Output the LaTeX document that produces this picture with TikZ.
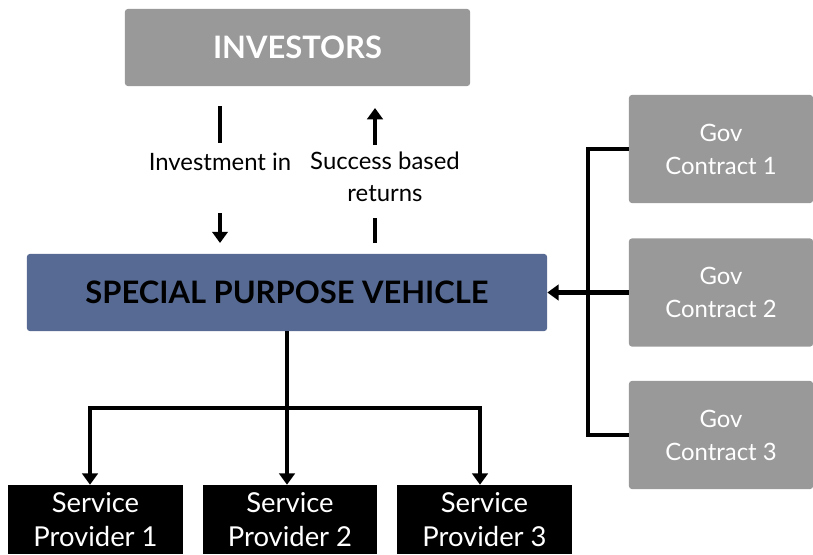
\documentclass[tikz,border=0pt]{standalone}
\usepackage{fontspec}
\setmainfont{Lato}
\usetikzlibrary{arrows.meta}

\definecolor{boxgray}{HTML}{999999}
\definecolor{spvblue}{HTML}{566A93}

\tikzset{
  investbox/.style={fill=boxgray, text=white, font=\fontsize{22}{26}\selectfont\bfseries,
    rounded corners=2pt, minimum width=8.625cm, minimum height=1.925cm, inner sep=0pt},
  spvbox/.style={fill=spvblue, text=black, font=\fontsize{22}{26}\selectfont\bfseries,
    rounded corners=2pt, minimum width=13cm, minimum height=1.925cm, inner sep=0pt},
  govbox/.style={fill=boxgray, text=white, font=\fontsize{17}{23.5}\selectfont, align=center,
    rounded corners=2pt, minimum width=4.6cm, minimum height=2.7cm, inner sep=0pt},
  provbox/.style={fill=black, text=white, font=\fontsize{19.5}{24.5}\selectfont, align=center,
    minimum width=4.35cm, minimum height=1.725cm, inner sep=0pt},
  lbl/.style={font=\fontsize{17}{22.5}\selectfont, align=center, inner sep=0pt},
  conn/.style={line width=3.3pt},
  arr/.style={conn, -{Triangle[width=11pt,length=8pt]}}
}

\begin{document}
\begin{tikzpicture}[x=0.025cm, y=-0.025cm]
  \useasboundingbox (0,0) rectangle (813,554);

  % boxes
  \node[investbox] (inv) at (297.5,47.5) {INVESTORS};
  \node[spvbox] (spv) at (287,292.5) {SPECIAL PURPOSE VEHICLE};
  \node[govbox] (gov1) at (721,149) {Gov\\Contract 1};
  \node[govbox] (gov2) at (721,292.5) {Gov\\Contract 2};
  \node[govbox] (gov3) at (721,435) {Gov\\Contract 3};
  \node[provbox] (sp1) at (95.5,519.5) {Service\\Provider 1};
  \node[provbox] (sp2) at (290,519.5) {Service\\Provider 2};
  \node[provbox] (sp3) at (484.5,519.5) {Service\\Provider 3};

  % money in, returns out
  \coordinate (i1) at (220,106); \coordinate (i2) at (220,143);
  \coordinate (i3) at (220,213); \coordinate (i4) at (220,243);
  \draw [conn] (i1) -- (i2); % stub
  \draw [arr] (i3) -- (i4); % into vehicle
  \node[lbl] (invlbl) at (220,162) {Investment in};
  \coordinate (r1) at (375,243); \coordinate (r2) at (375,218);
  \coordinate (r3) at (375,145); \coordinate (r4) at (375,108);
  \draw [conn] (r1) -- (r2); % stub
  \draw [arr] (r3) -- (r4); % back to investors
  \node[lbl] (retlbl) at (385,177) {Success based\\returns};

  % contracts feed the vehicle
  \coordinate (gbus) at (588,0);
  \draw [conn] (gov1.west) -- (gov1.west -| gbus) -- (gov3.west -| gbus) -- (gov3.west);
  \draw [arr] (gov2.west) -- (spv.east);

  % vehicle pays the providers
  \coordinate (pbus) at (0,408);
  \coordinate (p1) at (90,0); \coordinate (p3) at (480,0);
  \draw [arr] (spv.south) -- (spv.south |- sp2.north);
  \draw [arr] (spv.south |- pbus) -| (sp1.north -| p1);
  \draw [arr] (spv.south |- pbus) -| (sp3.north -| p3);
\end{tikzpicture}
\end{document}
